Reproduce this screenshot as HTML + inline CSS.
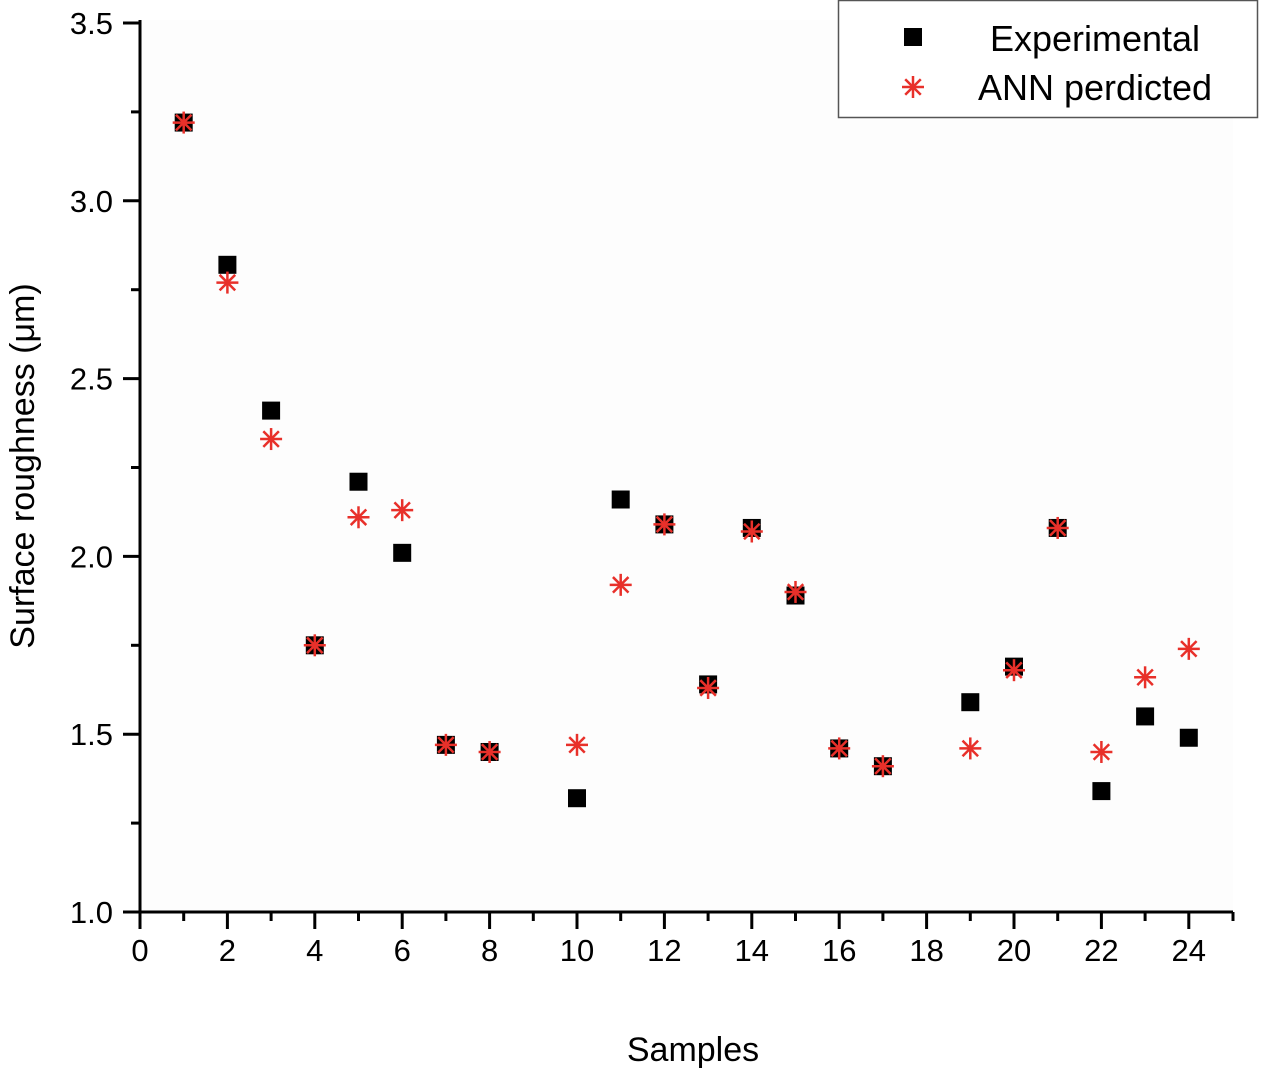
<!DOCTYPE html>
<html><head><meta charset="utf-8"><style>
html,body{margin:0;padding:0;background:#fff;}
svg{display:block;font-family:"Liberation Sans",Arial,sans-serif;}
</style></head><body>
<svg id="chart" width="1263" height="1071" viewBox="0 0 1263 1071">
<rect x="140" y="20" width="1093" height="892" fill="#fdfdfd"/>
<g id="axes"></g>
<g id="marks"></g>
<text x="693" y="1061" font-size="34" text-anchor="middle">Samples</text>
<text transform="translate(34,466) rotate(-90)" font-size="34" text-anchor="middle">Surface roughness (μm)</text>
<g>
<rect x="838.5" y="0.5" width="419" height="117" fill="#fff" stroke="#555" stroke-width="1.5"/>
<rect x="904" y="28" width="18" height="18" fill="#000"/>
<text x="1095" y="51" font-size="36" text-anchor="middle">Experimental</text>
<g id="legstar"></g>
<text x="1095" y="100" font-size="36" text-anchor="middle">ANN perdicted</text>
</g>
</svg>
<script>
const samples=[1,2,3,4,5,6,7,8,10,11,12,13,14,15,16,17,19,20,21,22,23,24];
const experimental=[3.22,2.82,2.41,1.75,2.21,2.01,1.47,1.45,1.32,2.16,2.09,1.64,2.08,1.89,1.46,1.41,1.59,1.69,2.08,1.34,1.55,1.49];
const annPredicted=[3.22,2.77,2.33,1.75,2.11,2.13,1.47,1.45,1.47,1.92,2.09,1.63,2.07,1.90,1.46,1.41,1.46,1.68,2.08,1.45,1.66,1.74];
const xTicks=[0,2,4,6,8,10,12,14,16,18,20,22,24];
const yTicks=[1.0,1.5,2.0,2.5,3.0,3.5];
const NS="http://www.w3.org/2000/svg";
function X(v){return 140+v*43.7;}
function Y(v){return 912-(v-1)*355.6;}
function mk(tag,at,parent){const e=document.createElementNS(NS,tag);for(const k in at)e.setAttribute(k,at[k]);parent.appendChild(e);return e;}
const axes=document.getElementById('axes'),marks=document.getElementById('marks');
let l=mk('line',{x1:140,y1:912,x2:1233,y2:912,stroke:'#000','stroke-width':3},axes);


l=mk('line',{x1:140,y1:912,x2:140,y2:20,stroke:'#000','stroke-width':3},axes);


mk('line',{x1:1233,y1:912,x2:1233,y2:921,stroke:'#000','stroke-width':3},axes);
for(let i=1;i<25;i+=2){mk('line',{x1:X(i),y1:912,x2:X(i),y2:921,stroke:'#000','stroke-width':3},axes);}
xTicks.forEach(v=>{mk('line',{x1:X(v),y1:912,x2:X(v),y2:929,stroke:'#000','stroke-width':3},axes);
const t=mk('text',{x:X(v),y:961,'font-size':31,'text-anchor':'middle'},axes);t.textContent=v;

});
for(let v=1.25;v<3.5;v+=0.5){mk('line',{x1:131,y1:Y(v),x2:140,y2:Y(v),stroke:'#000','stroke-width':3},axes);}
yTicks.forEach(v=>{mk('line',{x1:123,y1:Y(v),x2:140,y2:Y(v),stroke:'#000','stroke-width':3},axes);
const t=mk('text',{x:113,y:Y(v)+11,'font-size':31,'text-anchor':'end'},axes);t.textContent=v.toFixed(1);

});
function star(cx,cy,p){const g=mk('g',{stroke:'#e8302a','stroke-width':2.5},p);const r=11;
for(let a=0;a<4;a++){const th=a*Math.PI/4;mk('line',{x1:cx-r*Math.cos(th),y1:cy-r*Math.sin(th),x2:cx+r*Math.cos(th),y2:cy+r*Math.sin(th)},g);}return g;}
samples.forEach((s,i)=>{const r=mk('rect',{x:X(s)-9,y:Y(experimental[i])-9,width:18,height:18,fill:'#000'},marks);

});
samples.forEach((s,i)=>{const g=star(X(s),Y(annPredicted[i]),marks);

});
star(913,87,document.getElementById('legstar'));
</script>
</body></html>
